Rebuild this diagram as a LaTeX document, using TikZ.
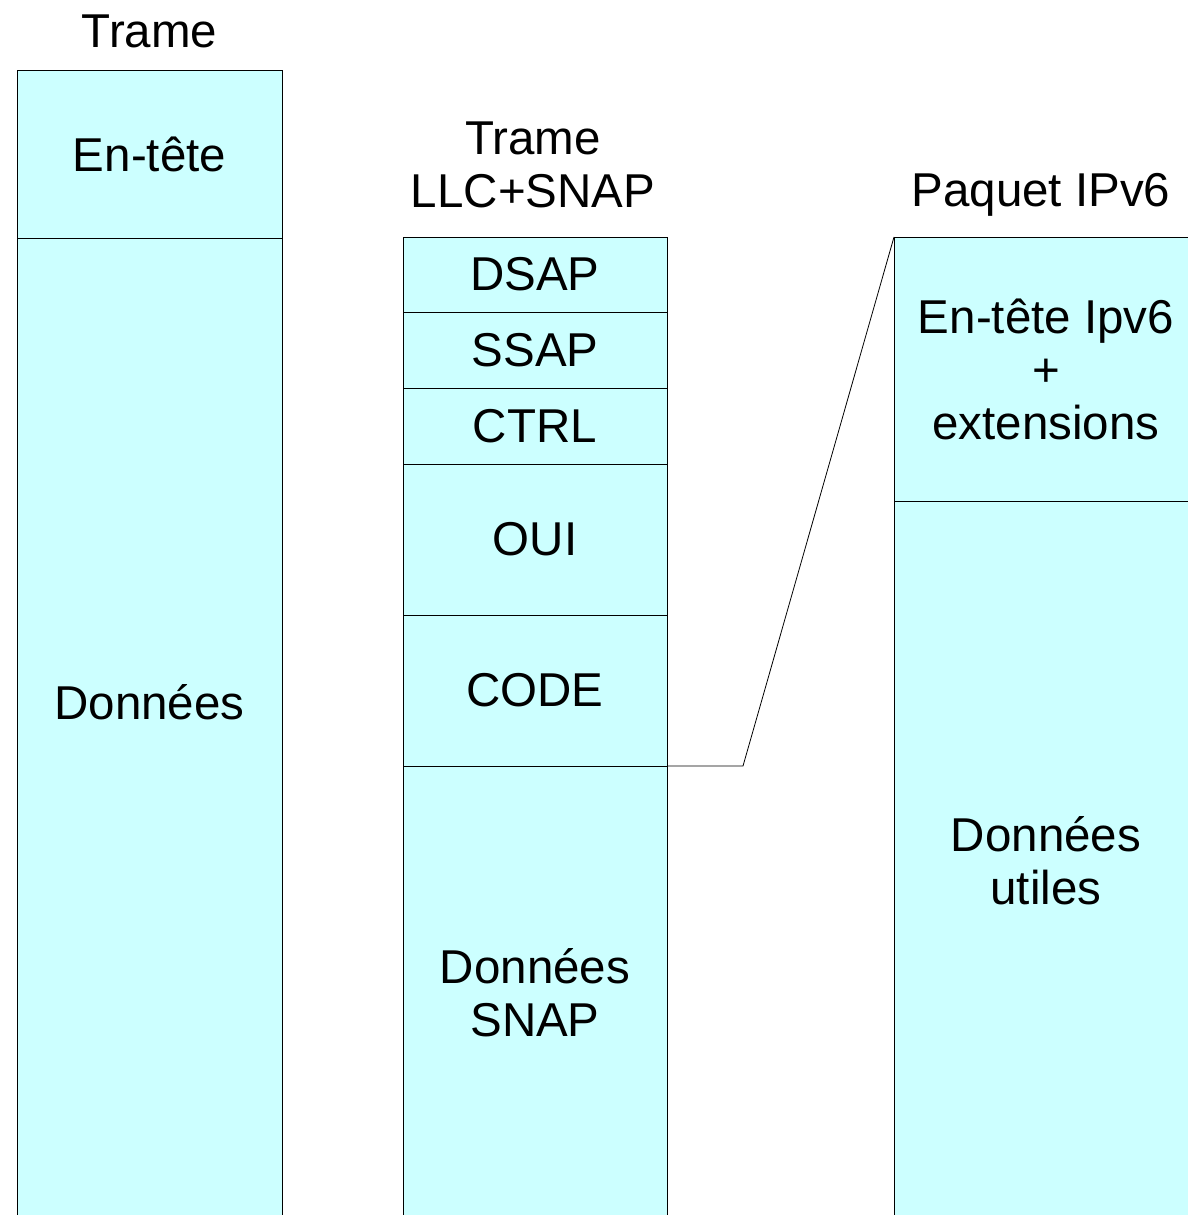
\documentclass[tikz,border=0pt]{standalone}
\usepackage{fontspec}
\setmainfont{Liberation Sans}
\usetikzlibrary{positioning}
\definecolor{cyanpale}{HTML}{CCFFFF}

\begin{document}
\begin{tikzpicture}[x=1pt,y=-1pt]
    \tikzstyle{cell}=[draw, fill=cyanpale, line width=0.8pt, inner sep=0pt, outer sep=0pt,
        anchor=north west, align=center, font=\fontsize{47.5}{53}\selectfont]
    \tikzstyle{titre}=[anchor=base, align=center, inner sep=0pt, font=\fontsize{47.5}{53}\selectfont]
    \useasboundingbox (0,0) rectangle (1188,1215);
    \begin{scope}
        \clip (0,0) rectangle (1188,1215);
        % trame
        \node[cell, minimum width=265pt, minimum height=168pt] (entete) at (17,70) {En-t\^ete};
        \node[cell, minimum width=265pt, minimum height=982pt, below=0pt of entete] (donnees) {};
        \node[font=\fontsize{47.5}{53}\selectfont] (txtdonnees) at (149.5,702) {Donn\'ees};
        % trame LLC+SNAP
        \node[cell, minimum width=264pt, minimum height=75pt] (dsap) at (403,237) {DSAP};
        \node[cell, minimum width=264pt, minimum height=76pt, below=0pt of dsap] (ssap) {SSAP};
        \node[cell, minimum width=264pt, minimum height=76pt, below=0pt of ssap] (ctrl) {CTRL};
        \node[cell, minimum width=264pt, minimum height=151pt, below=0pt of ctrl] (oui) {OUI};
        \node[cell, minimum width=264pt, minimum height=151pt, below=0pt of oui] (code) {CODE};
        \node[cell, minimum width=264pt, minimum height=454pt, below=0pt of code] (snap) {Donn\'ees\\SNAP};
        % paquet IPv6
        \node[cell, minimum width=304pt, minimum height=264pt] (entete6) at (894,237) {En-t\^ete Ipv6\\+\\extensions};
        \node[cell, minimum width=304pt, minimum height=719pt, below=0pt of entete6] (utiles) {Donn\'ees\\utiles};
        % lien
        \coordinate (coude) at (743,766);
        \draw[line width=0.8pt] (code.south east) -- (coude) -- (entete6.north west);
    \end{scope}
    \node[titre] (titre1) at (149.5,48) {Trame};
    \node[titre] (titre2) at (533,207) {Trame\\LLC+SNAP};
    \node[titre] (titre3) at (1041,206) {Paquet IPv6};
\end{tikzpicture}
\end{document}
